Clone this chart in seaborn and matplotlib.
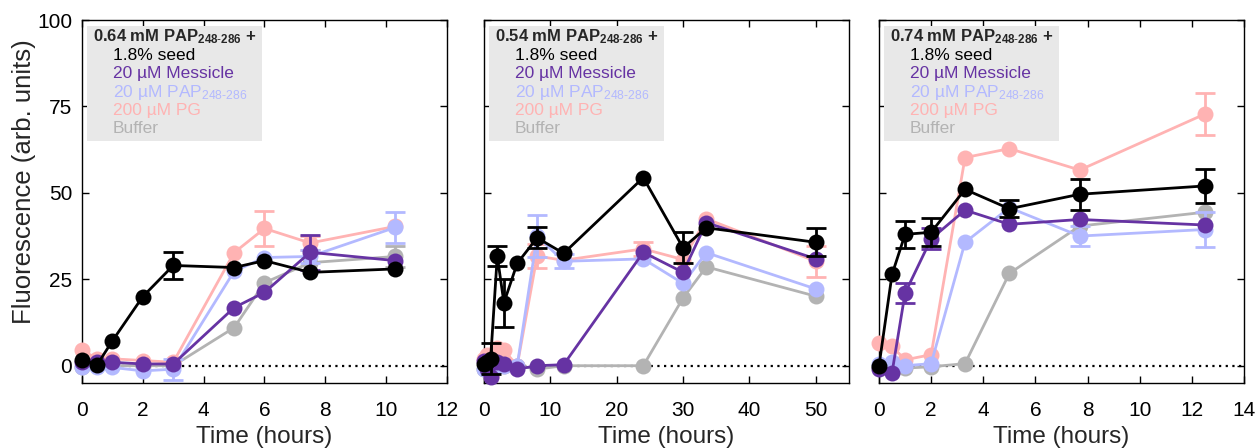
import numpy as np
import pandas as pd
import matplotlib
matplotlib.use("Agg")
import matplotlib.pyplot as plt
import seaborn as sns

# ---------------- data ----------------
series_names = ["Buffer", "200 µM PG", "20 µM PAP", "20 µM Messicle", "1.8% seed"]
series_colors = ["#b3b3b3", "#ffb3b3", "#b3b9ff", "#6633a3", "#000000"]

# Panel 1 : 0.64 mM
t1 = [0, 0.5, 1, 2, 3, 5, 6, 7.5, 10.3]
p1_buffer   = [-0.5, 0, 0, 0, 0, 11, 24, 29.8, 31.6]
p1_pg       = [4.5, 2, 2, 1.5, 1, 32.7, 39.7, 35.5, 40.3]
p1_pap      = [-0.5, -0.5, -0.5, -1.5, -1, 27.3, 31.3, 31.6, 40]
p1_messicle = [1, 1, 1, 0.5, 0.5, 16.8, 21.2, 32.8, 30.4]
p1_seed     = [1.7, 0.3, 7.2, 20, 29, 28.4, 30.4, 27, 28]
p1_err_buffer   = [0, 0, 0, 0, 0, 0, 0, 0, 3]
p1_err_pg       = [0, 0, 0, 0, 0, 0, 5, 2, 0]
p1_err_pap      = [0, 0, 0, 0, 3, 0, 0, 2, 4.5]
p1_err_messicle = [0, 0, 0, 0, 0, 0, 0, 5, 0]
p1_err_seed     = [0, 0, 0, 0, 4, 0, 0, 0, 0]

# Panel 2 : 0.54 mM
t2 = [0, 0.5, 1, 2, 3, 5, 8, 12, 24, 30, 33.5, 50]
p2_buffer   = [-1, -1, -1, 0, 0, 0, -1, 0, 0, 19.6, 28.6, 20.1]
p2_pg       = [2, 3, -3, 5, 4.5, 0, 31.7, 30.5, 33.8, 30.7, 42.5, 30.2]
p2_pap      = [-1, 0, -1, 0, 0, 0, 37.5, 30.2, 30.9, 23.8, 32.7, 22.2]
p2_messicle = [1.5, -1, -3.3, 1.2, 0.5, -1, 0, 0.3, 32.8, 27, 41.4, 30.9]
p2_seed     = [0.5, 1, 2, 31.7, 18.2, 29.6, 37, 32.5, 54.4, 34.1, 39.9, 35.7]
p2_err_buffer   = [0] * 12
p2_err_pg       = [0, 0, 0, 0, 0, 0, 3.5, 0, 2, 0, 0, 4.5]
p2_err_pap      = [0, 0, 0, 0, 0, 0, 6, 2, 0, 0, 0, 0]
p2_err_messicle = [0] * 12
p2_err_seed     = [0, 0, 4.5, 3, 7, 0, 3, 0, 0, 4.5, 0, 4]

# Panel 3 : 0.74 mM
t3 = [0, 0.5, 1, 2, 3.3, 5, 7.7, 12.5]
p3_buffer   = [-0.5, 0, -0.7, -0.3, 0.6, 26.7, 40.4, 44.4]
p3_pg       = [6.6, 5.6, 1.7, 3.2, 60.2, 62.8, 56.6, 72.8]
p3_pap      = [0.5, 1.2, 0, 0.6, 35.7, 45.7, 37.5, 39.4]
p3_messicle = [-1, -2, 21, 36.7, 45, 40.9, 42.3, 40.7]
p3_seed     = [0, 26.4, 38, 38.6, 51, 45.4, 49.6, 52]
p3_err_buffer   = [0] * 8
p3_err_pg       = [0, 0, 0, 0, 0, 0, 0, 6]
p3_err_pap      = [0, 0, 0, 0, 0, 0, 3, 5]
p3_err_messicle = [0, 0, 3, 3, 0, 0, 0, 0]
p3_err_seed     = [0, 0, 4, 4, 0, 2.5, 4.5, 5]

panel_titles = ["0.64 mM PAP", "0.54 mM PAP", "0.74 mM PAP"]
panel_xmax = [12, 55, 14]
panel_xticks = [[0, 2, 4, 6, 8, 10, 12], [0, 10, 20, 30, 40, 50], [0, 2, 4, 6, 8, 10, 12, 14]]
yticks = [0, 25, 50, 75, 100]

panels = [
    (t1, [p1_buffer, p1_pg, p1_pap, p1_messicle, p1_seed],
     [p1_err_buffer, p1_err_pg, p1_err_pap, p1_err_messicle, p1_err_seed]),
    (t2, [p2_buffer, p2_pg, p2_pap, p2_messicle, p2_seed],
     [p2_err_buffer, p2_err_pg, p2_err_pap, p2_err_messicle, p2_err_seed]),
    (t3, [p3_buffer, p3_pg, p3_pap, p3_messicle, p3_seed],
     [p3_err_buffer, p3_err_pg, p3_err_pap, p3_err_messicle, p3_err_seed]),
]

# ---------------- style ----------------
sns.set_style("ticks")
plt.rcParams["font.family"] = ["Liberation Sans", "DejaVu Sans"]
plt.rcParams["mathtext.fontset"] = "custom"
plt.rcParams["mathtext.rm"] = "Liberation Sans"
plt.rcParams["mathtext.bf"] = "Liberation Sans:bold"
plt.rcParams["mathtext.it"] = "Liberation Sans:italic"
plt.rcParams["mathtext.default"] = "regular"

fig = plt.figure(figsize=(12.57, 4.48), dpi=100)
lefts = [82 / 1257, 484 / 1257, 879 / 1257]
width = 365 / 1257
bottom = 1 - 383 / 448
height = (383 - 20) / 448

for i, (tt, vals, errs) in enumerate(panels):
    ax = fig.add_axes([lefts[i], bottom, width, height])
    ax.axhline(0, color="black", linestyle=(0, (1, 2)), linewidth=1.6, zorder=1)
    rows = []
    for name, v in zip(series_names, vals):
        for t, y in zip(tt, v):
            rows.append({"t": t, "y": y, "series": name})
    df = pd.DataFrame(rows)
    for k, (name, col) in enumerate(zip(series_names, series_colors)):
        sub = df[df.series == name]
        e = np.array(errs[k], dtype=float)
        m = e > 0
        tarr = np.array(tt, dtype=float)
        varr = np.array(vals[k], dtype=float)
        if m.any():
            ax.errorbar(tarr[m], varr[m], yerr=e[m], fmt="none", ecolor=col,
                        elinewidth=2, capsize=7, capthick=2, zorder=2 + 2 * k,
                        clip_on=False)
        sns.lineplot(data=sub, x="t", y="y", ax=ax, color=col, linewidth=2,
                     marker="o", markersize=11.5, markeredgewidth=0,
                     zorder=3 + 2 * k, clip_on=False, legend=False,
                     estimator=None, sort=False)
    ax.set_xlim(0, panel_xmax[i])
    ax.set_ylim(-5, 100)
    ax.set_xticks(panel_xticks[i])
    ax.set_yticks(yticks)
    ax.tick_params(direction="in", length=5, width=1, top=True, right=True,
                   labelsize=15, colors="black")
    ax.tick_params(axis="x", pad=13)
    ax.tick_params(axis="y", pad=7)
    if i != 0:
        ax.set_yticklabels([])
        ax.set_ylabel("")
    else:
        ax.set_ylabel("Fluorescence (arb. units)", fontsize=18.5)
        ax.yaxis.set_label_coords(-0.125, 0.555)
    ax.set_xlabel("Time (hours)", fontsize=17.5, labelpad=4)
    for s in ax.spines.values():
        s.set_linewidth(1)
        s.set_color("black")

    # legend box
    ax.add_patch(plt.Rectangle((0.014, 0.667), 0.48, 0.316, transform=ax.transAxes,
                               facecolor="#e8e8e8", edgecolor="none", zorder=20))
    ax.text(0.03, 0.955, panel_titles[i] + r"$_{\mathbf{248\text{-}286}}$ +",
            transform=ax.transAxes, fontsize=12, fontweight="bold", va="center",
            ha="left", zorder=21)
    labels = ["1.8% seed", "20 µM Messicle", "20 µM PAP$_{248\\text{-}286}$",
              "200 µM PG", "Buffer"]
    label_cols = [series_colors[4], series_colors[3], series_colors[2],
                  series_colors[1], series_colors[0]]
    for j, (lab, col) in enumerate(zip(labels, label_cols)):
        ax.text(0.085, 0.902 - j * 0.0505, lab, transform=ax.transAxes,
                fontsize=12.5, color=col, va="center", ha="left", zorder=21)

fig.savefig("out.png", dpi=100)
